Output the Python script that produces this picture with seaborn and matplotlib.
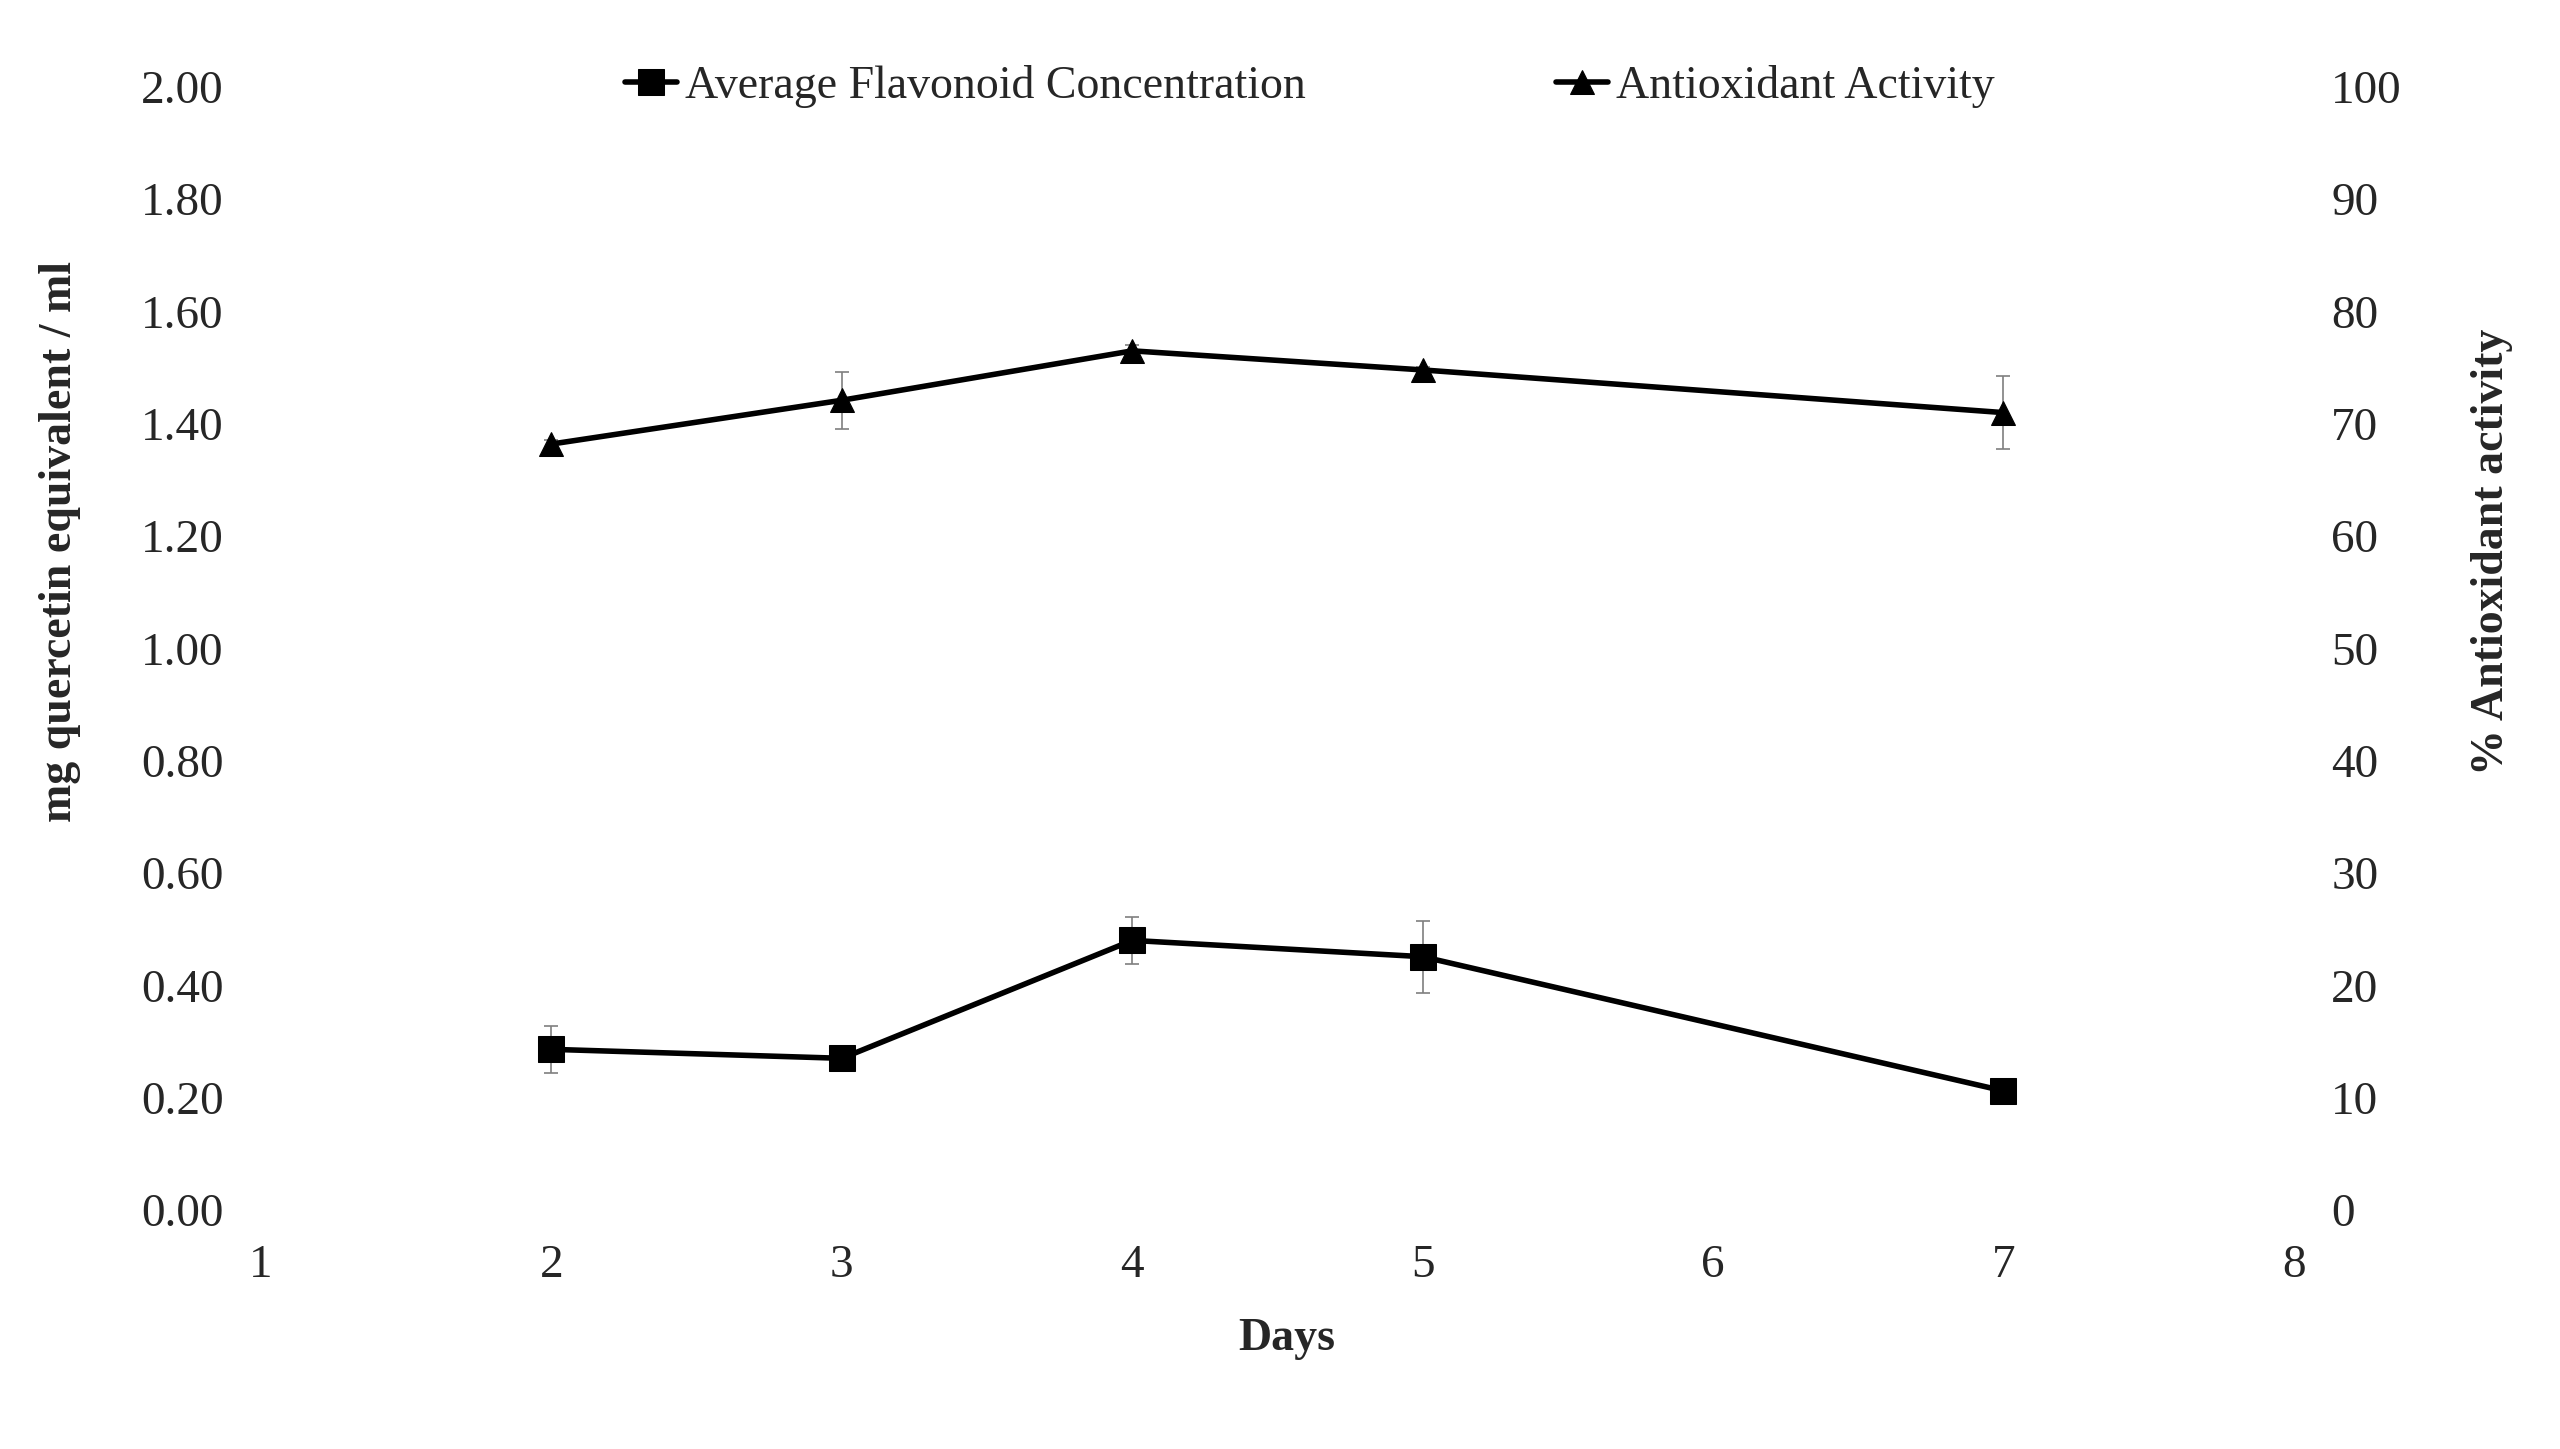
import numpy as np
import pandas as pd
import matplotlib
matplotlib.use('Agg')
import matplotlib.pyplot as plt
import seaborn as sns

# valores
days = [2, 3, 4, 5, 7]
flavonoid = [0.286, 0.270, 0.480, 0.451, 0.212]
flavonoid_err = [0.042, 0.0, 0.042, 0.064, 0.0]
antioxidant = [68.2, 72.1, 76.5, 74.8, 71.0]
antioxidant_err = [0.4, 2.55, 0.5, 0.3, 3.27]

data = pd.DataFrame({'day': days, 'flavonoid': flavonoid, 'flav_err': flavonoid_err,
                     'antioxidant': antioxidant, 'anti_err': antioxidant_err})

sns.set_theme(style='white')
plt.rcParams['font.family'] = ['Liberation Serif', 'DejaVu Serif']

fig = plt.figure(figsize=(25.6, 14.49), dpi=100)
ax = fig.add_axes([0.102, 0.165, 0.794, 0.775])
ax2 = ax.twinx()

fs_tick = 34
fs_lab = 33

# barras de error (grises, finas)
ax.errorbar(data['day'], data['flavonoid'], yerr=data['flav_err'], fmt='none',
            ecolor='#7f7f7f', elinewidth=1.2, capsize=4.7, capthick=1.2, zorder=1)
ax2.errorbar(data['day'], data['antioxidant'], yerr=data['anti_err'], fmt='none',
             ecolor='#7f7f7f', elinewidth=1.2, capsize=4.7, capthick=1.2, zorder=1)

sns.lineplot(data=data, x='day', y='flavonoid', ax=ax, color='black', linewidth=4,
             marker='s', markersize=18.5, markeredgecolor='black',
             label='Average Flavonoid Concentration', legend=False, zorder=3)
sns.lineplot(data=data, x='day', y='antioxidant', ax=ax2, color='black', linewidth=4,
             marker='^', markersize=17.5, markeredgecolor='black',
             label='Antioxidant Activity', legend=False, zorder=3)

ax.set_xlim(1, 8)
ax.set_ylim(0, 2)
ax2.set_ylim(0, 100)
ax.set_xticks(range(1, 9))
ax.set_yticks(np.arange(0, 2.01, 0.2))
ax.set_yticklabels([f'{v:.2f}' for v in np.arange(0, 2.01, 0.2)])
ax2.set_yticks(range(0, 101, 10))

for a in (ax, ax2):
    for s in a.spines.values():
        s.set_visible(False)
    a.grid(False)
ax.tick_params(axis='y', length=0, labelsize=fs_tick, pad=27)
ax.tick_params(axis='x', length=0, labelsize=fs_tick, pad=25)
ax2.tick_params(axis='y', length=0, labelsize=fs_tick, pad=27)

ax.set_xlabel('')
ax.set_ylabel('')
ax2.set_ylabel('')
fig.text(0.5025, 0.0759, 'Days', fontsize=fs_lab, fontweight='bold', ha='center', va='center')
fig.text(0.0235, 0.626, 'mg quercetin equivalent / ml', fontsize=fs_lab, fontweight='bold',
         rotation=90, ha='center', va='center')
fig.text(0.9734, 0.619, '% Antioxidant activity', fontsize=fs_lab, fontweight='bold',
         rotation=90, ha='center', va='center')

h1, l1 = ax.get_legend_handles_labels()
h2, l2 = ax2.get_legend_handles_labels()
fig.legend(h1 + h2, l1 + l2, loc='center', bbox_to_anchor=(0.5117, 0.940), ncol=2,
           frameon=False, fontsize=33, handlelength=1.14, handletextpad=0.18,
           columnspacing=5.45)

fig.savefig('out.png', dpi=100)
